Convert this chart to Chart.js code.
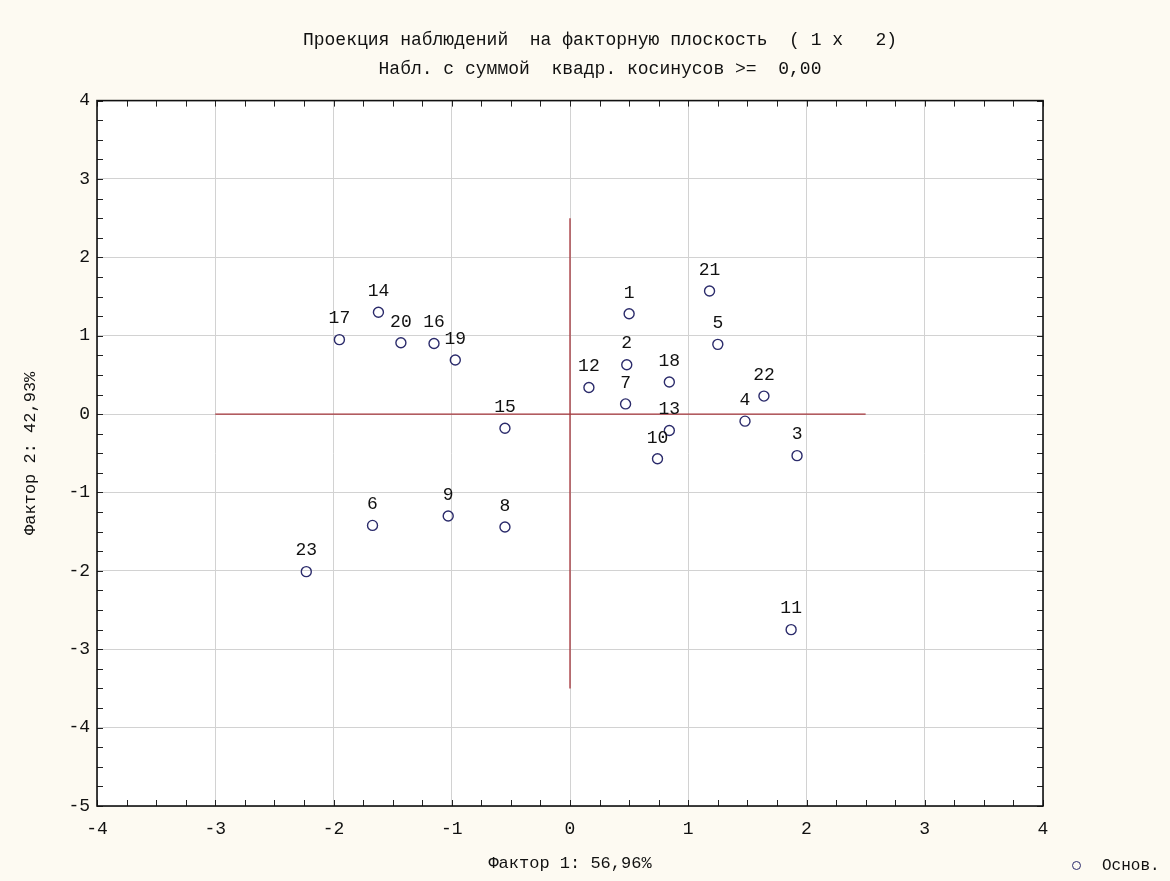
<!DOCTYPE html>
<html>
<head>
<meta charset="utf-8">
<script src="https://cdn.jsdelivr.net/npm/chart.js@4.4.1/dist/chart.umd.min.js"></script>
<style>
    body { margin: 0; background: #fdfaf2; }
    #wrap { position: relative; width: 1170px; height: 881px; }
    #legend {
        position: absolute; left: 1072px; top: 857px;
        font: 16px "Liberation Mono", monospace; color: #111;
    }
    #legend span.dot {
        display: inline-block; width: 7px; height: 7px; border: 1.3px solid #2b2b6b;
        border-radius: 50%; margin-right: 21px; vertical-align: 0px;
    }
</style>
</head>
<body>
<div id="wrap">
    <canvas id="pcaChart"></canvas>
    <div id="legend"><span class="dot"></span>Основ.</div>
</div>
<script>
// observation numbers and factor coordinates
const obsLabels = ["1","2","3","4","5","6","7","8","9","10","11","12",
                   "13","14","15","16","17","18","19","20","21","22","23"];
const factor1 = [0.50, 0.48, 1.92, 1.48, 1.25, -1.67, 0.47, -0.55, -1.03, 0.74, 1.87, 0.16,
                 0.84, -1.62, -0.55, -1.15, -1.95, 0.84, -0.97, -1.43, 1.18, 1.64, -2.23];
const factor2 = [1.28, 0.63, -0.53, -0.09, 0.89, -1.42, 0.13, -1.44, -1.30, -0.57, -2.75, 0.34,
                 -0.21, 1.30, -0.18, 0.90, 0.95, 0.41, 0.69, 0.91, 1.57, 0.23, -2.01];

// red cross through the origin
const crossX = [-3, 2.5];
const crossY = [-3.5, 2.5];

const xTicks = [-4, -3, -2, -1, 0, 1, 2, 3, 4];
const yTicks = [-5, -4, -3, -2, -1, 0, 1, 2, 3, 4];

const points = factor1.map((x, i) => ({ x: x, y: factor2[i] }));
const hLine = crossX.map(x => ({ x: x, y: 0 }));
const vLine = crossY.map(y => ({ x: 0, y: y }));

const mono = '"Liberation Mono", "DejaVu Sans Mono", monospace';

// white plot area, full frame, inward ticks, point labels
const framePlugin = {
    id: "frame",
    beforeDraw(chart) {
        const { ctx, chartArea: a } = chart;
        ctx.save();
        ctx.fillStyle = "#ffffff";
        ctx.fillRect(a.left, a.top, a.right - a.left, a.bottom - a.top);
        ctx.restore();
    },
    afterDraw(chart) {
        const { ctx, chartArea: a, scales } = chart;
        ctx.save();
        ctx.strokeStyle = "#222";
        ctx.lineWidth = 1;
        for (let v = xTicks[0]; v <= xTicks[xTicks.length - 1] + 1e-9; v += 0.25) {
            const px = Math.round(scales.x.getPixelForValue(v)) + 0.5;
            ctx.beginPath();
            ctx.moveTo(px, a.top); ctx.lineTo(px, a.top + 6);
            ctx.moveTo(px, a.bottom); ctx.lineTo(px, a.bottom - 6);
            ctx.stroke();
        }
        for (let v = yTicks[0]; v <= yTicks[yTicks.length - 1] + 1e-9; v += 0.25) {
            const py = Math.round(scales.y.getPixelForValue(v)) + 0.5;
            ctx.beginPath();
            ctx.moveTo(a.left, py); ctx.lineTo(a.left + 6, py);
            ctx.moveTo(a.right, py); ctx.lineTo(a.right - 6, py);
            ctx.stroke();
        }
        ctx.lineWidth = 1.6;
        ctx.strokeStyle = "#111";
        ctx.strokeRect(a.left, a.top, a.right - a.left, a.bottom - a.top);
        ctx.restore();
    },
    afterDatasetsDraw(chart) {
        const { ctx } = chart;
        const meta = chart.getDatasetMeta(2);
        ctx.save();
        ctx.font = "18px " + mono;
        ctx.fillStyle = "#111";
        ctx.textAlign = "center";
        ctx.textBaseline = "middle";
        meta.data.forEach((el, i) => {
            ctx.fillText(obsLabels[i], el.x, el.y - 21);
        });
        ctx.restore();
    }
};

const ctx = document.getElementById("pcaChart").getContext("2d");

const chart = new Chart(ctx, {
    type: "scatter",
    data: {
        datasets: [
            {
                label: "h",
                data: hLine,
                showLine: true,
                borderColor: "#a5343a",
                borderWidth: 1.3,
                pointRadius: 0
            },
            {
                label: "v",
                data: vLine,
                showLine: true,
                borderColor: "#a5343a",
                borderWidth: 1.3,
                pointRadius: 0
            },
            {
                label: "Основ.",
                data: points,
                pointRadius: 5,
                pointBorderWidth: 1.4,
                pointBorderColor: "#2b2b6b",
                pointBackgroundColor: "rgba(255,255,255,0)"
            }
        ]
    },
    options: {
        responsive: true,
        maintainAspectRatio: false,
        animation: false,
        layout: { padding: { left: 30, right: 0, top: 0, bottom: 0 } },
        plugins: {
            legend: { display: false },
            tooltip: { enabled: false },
            title: {
                display: true,
                text: "Проекция наблюдений  на факторную плоскость  ( 1 x   2)",
                color: "#111",
                font: { family: mono, size: 18, weight: "normal", lineHeight: 1.1 },
                padding: { top: 30, bottom: 10 }
            },
            subtitle: {
                display: true,
                text: "Набл. с суммой  квадр. косинусов >=  0,00",
                color: "#111",
                font: { family: mono, size: 18, weight: "normal", lineHeight: 1.1 },
                padding: { top: 0, bottom: 21 }
            }
        },
        scales: {
            x: {
                type: "linear",
                min: -4,
                max: 4,
                afterFit: s => { s.height = 75; },
                afterBuildTicks: s => { s.ticks = xTicks.map(v => ({ value: v })); },
                grid: { color: "#d2d2d2", drawTicks: false },
                border: { display: false },
                ticks: { color: "#111", padding: 12, font: { family: mono, size: 18 } },
                title: {
                    display: true,
                    text: "Фактор 1: 56,96%",
                    color: "#111",
                    font: { family: mono, size: 17, lineHeight: 1.2 },
                    padding: { top: 0, bottom: 7 }
                }
            },
            y: {
                type: "linear",
                min: -5,
                max: 4,
                afterFit: s => { s.width = 67; },
                afterBuildTicks: s => { s.ticks = yTicks.map(v => ({ value: v })); },
                grid: { color: "#d2d2d2", drawTicks: false },
                border: { display: false },
                ticks: { color: "#111", padding: 7, font: { family: mono, size: 18 } },
                title: {
                    display: true,
                    text: "Фактор 2: 42,93%",
                    color: "#111",
                    font: { family: mono, size: 17, lineHeight: 1.2 },
                    padding: { top: -10, bottom: 0 }
                }
            },
            // empty right box, keeps the plot 127px from the right edge
            yRight: {
                type: "linear",
                position: "right",
                min: 0,
                max: 1,
                afterFit: s => { s.width = 127; },
                grid: { display: false },
                border: { display: false },
                ticks: { display: false }
            }
        }
    },
    plugins: [framePlugin]
});
</script>
</body>
</html>
